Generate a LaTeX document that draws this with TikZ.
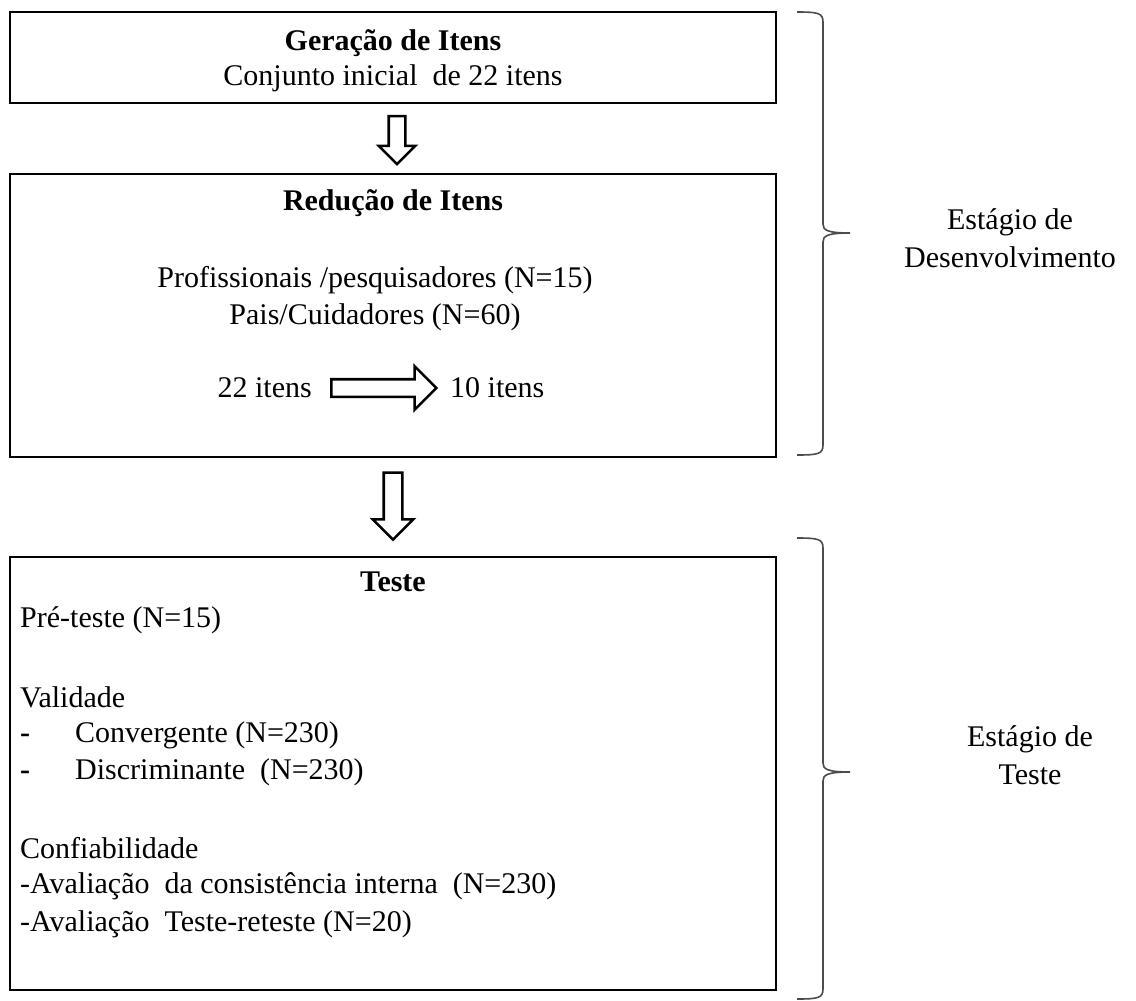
\documentclass[tikz,border=0pt]{standalone}
\usepackage{fontspec}
\setmainfont{Liberation Serif}
\usepackage{tikz}
\usetikzlibrary{positioning,shapes.arrows}

\begin{document}
\begin{tikzpicture}[x=1pt,y=-1pt,
    every node/.style={font=\fontsize{30}{38}\selectfont,inner sep=0pt},
    box/.style={draw,line width=1.6pt,minimum width=766pt},
    txt/.style={anchor=center},
    ltxt/.style={anchor=west},
    hollow/.style={single arrow,draw,line width=2.6pt,inner xsep=0pt,inner ysep=7pt,
      single arrow head extend=10pt,single arrow tip angle=90,minimum height=#1},
    hollowdown/.style={hollow=#1,inner xsep=7pt,inner ysep=0pt,shape border rotate=270},
    brace/.style={draw=black!70,line width=1.6pt}]
    \useasboundingbox (0,0) rectangle (1136,1001);
    % caixas
    \node[box,minimum height=91pt] (gen) at (393,57.5) {};
    \node[box,minimum height=283pt] (red) at (393,315.5) {};
    \node[box,minimum height=433pt] (tst) at (393,773.5) {};
    % geracao
    \node[txt] (gentit) at (393,43) {\textbf{Geração de Itens}};
    \node[txt] (genset) at (393,78) {Conjunto inicial\ \ de 22 itens};
    % reducao
    \node[txt] (redtit) at (393,203) {\textbf{Redução de Itens}};
    \node[txt] (prof) at (375,280) {Profissionais /pesquisadores (N=15)};
    \node[txt] (pais) at (375,317) {Pais/Cuidadores (N=60)};
    \node[anchor=east] (ini) at (312,388) {22 itens};
    \node[anchor=west] (fim) at (450,388) {10 itens};
    \node[hollow=105pt,inner ysep=7.5pt,single arrow head extend=13pt] (arr) at (379.5,388) {};
    % teste
    \node[txt] (tsttit) at (393,582) {\textbf{Teste}};
    \node[ltxt] (pre) at (20,620) {Pré-teste (N=15)};
    \node[ltxt] (val) at (20,697) {Validade};
    \node[ltxt] (conv) at (20,735) {\makebox[55pt][l]{\textbf{-}}Convergente (N=230)};
    \node[ltxt] (disc) at (20,772) {\makebox[55pt][l]{\textbf{-}}Discriminante\ \ (N=230)};
    \node[ltxt] (conf) at (20,848) {Confiabilidade};
    \node[ltxt] (aval) at (20,886) {-Avaliação\ \ da consistência interna\ \ (N=230)};
    \node[ltxt] (ret) at (20,924) {-Avaliação\ \ Teste-reteste (N=20)};
    % setas entre caixas
    \node[hollowdown=48pt] (down1) at (397,136) {};
    \node[hollowdown=67pt,inner xsep=8pt,single arrow head extend=11pt] (down2) at (393,501.5) {};
    % chaves
    \draw[brace] (797,12) .. controls (818,12) and (823,13) .. (823,22) -- (823,224)
      .. controls (823,230) and (827,233) .. (850,233)
      .. controls (827,233) and (823,236) .. (823,242) -- (823,445)
      .. controls (823,454) and (818,455) .. (797,455);
    \draw[brace] (797,538) .. controls (818,538) and (823,539) .. (823,548) -- (823,763)
      .. controls (823,769) and (827,772) .. (850,772)
      .. controls (827,772) and (823,775) .. (823,781) -- (823,989)
      .. controls (823,998) and (818,999) .. (797,999);
    \node[align=center] (desenv) at (1010,238) {Estágio de\\Desenvolvimento};
    \node[align=center] (teste) at (1030,755) {Estágio de\\Teste};
\end{tikzpicture}
\end{document}
